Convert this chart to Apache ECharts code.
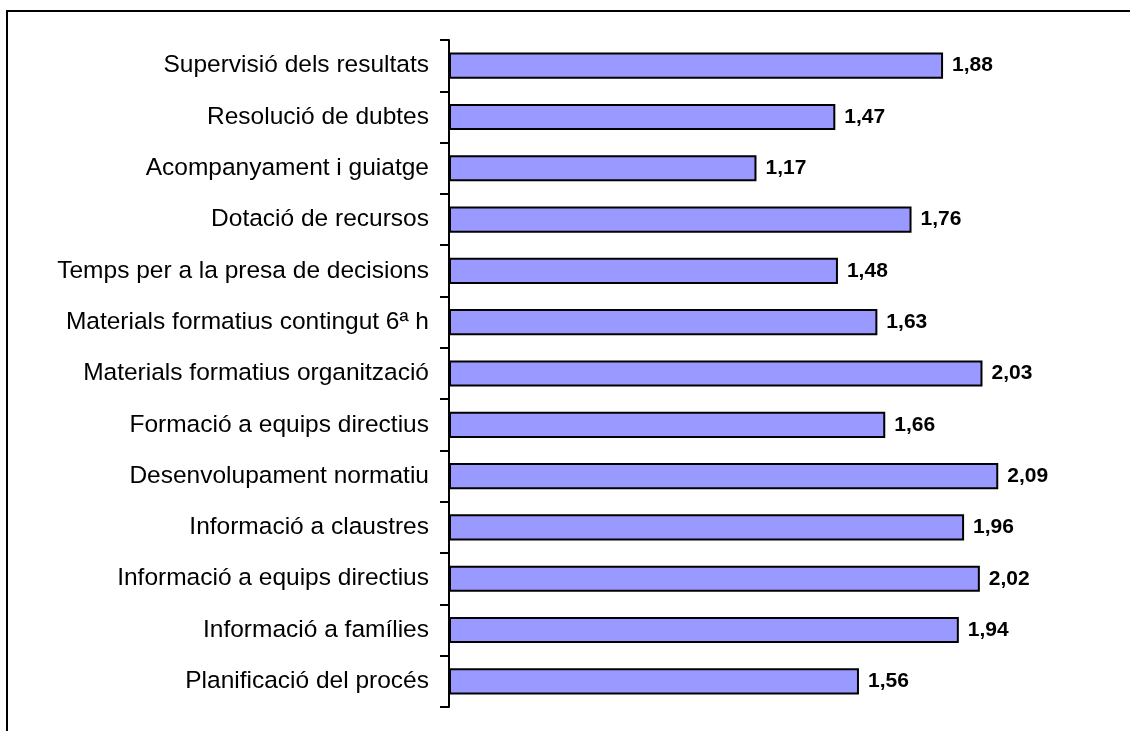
<!DOCTYPE html>
<html>
<head>
<meta charset="utf-8">
<script src="https://cdn.jsdelivr.net/npm/echarts@6/dist/echarts.min.js"></script>
<style>
html,body{margin:0;padding:0;background:#fff;}
#chart{width:1130px;height:731px;}
</style>
</head>
<body>
<div id="chart"></div>
<script>
// Categories listed top to bottom
var categories = [
  "Supervisió dels resultats",
  "Resolució de dubtes",
  "Acompanyament i guiatge",
  "Dotació de recursos",
  "Temps per a la presa de decisions",
  "Materials formatius contingut 6ª h",
  "Materials formatius organització",
  "Formació a equips directius",
  "Desenvolupament normatiu",
  "Informació a claustres",
  "Informació a equips directius",
  "Informació a famílies",
  "Planificació del procés"
];
var values = [1.88, 1.47, 1.17, 1.76, 1.48, 1.63, 2.03, 1.66, 2.09, 1.96, 2.02, 1.94, 1.56];

var chart = echarts.init(document.getElementById('chart'), null, {renderer: 'canvas'});
chart.setOption({
  animation: false,
  backgroundColor: '#ffffff',
  graphic: [{
    type: 'rect',
    shape: {x: 7, y: 11, width: 1200, height: 800},
    style: {fill: 'none', stroke: '#000', lineWidth: 2},
    silent: true
  }],
  grid: {left: 449, right: 24, top: 40, bottom: 24, containLabel: false},
  xAxis: {
    type: 'value',
    min: 0,
    max: 2.5,
    show: false
  },
  yAxis: {
    type: 'category',
    data: categories,
    inverse: true,
    axisLine: {show: true, lineStyle: {color: '#000', width: 2}},
    axisTick: {show: true, length: 9, lineStyle: {color: '#000', width: 2}},
    axisLabel: {
      color: '#000',
      fontFamily: 'Liberation Sans, Arial, sans-serif',
      fontSize: 24.5,
      margin: 20
    },
    splitLine: {show: false}
  },
  series: [{
    type: 'bar',
    data: values,
    barCategoryGap: '49%',
    itemStyle: {color: '#9999FF', borderColor: '#000', borderWidth: 2},
    label: {
      show: true,
      position: 'right',
      distance: 9,
      color: '#000',
      fontFamily: 'Liberation Sans, Arial, sans-serif',
      fontWeight: 'bold',
      fontSize: 21,
      formatter: function (p) { return p.value.toFixed(2).replace('.', ','); }
    }
  }]
});
</script>
</body>
</html>
